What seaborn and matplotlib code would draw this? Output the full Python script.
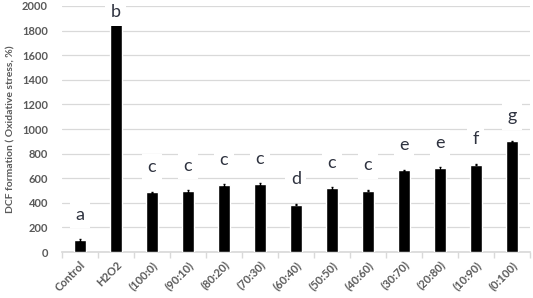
import matplotlib
matplotlib.use("Agg")
import matplotlib.pyplot as plt
import seaborn as sns
import pandas as pd

categories = ["Control", "H2O2", "(100:0)", "(90:10)", "(80:20)", "(70:30)", "(60:40)",
              "(50:50)", "(40:60)", "(30:70)", "(20:80)", "(10:90)", "(0:100)"]
values = [100, 1862, 485, 495, 545, 555, 385, 520, 500, 665, 680, 710, 900]
errors = [6, 8, 6, 6, 6, 6, 6, 6, 6, 6, 10, 6, 6]
letters = ["a", "b", "c", "c", "c", "c", "d", "c", "c", "e", "e", "f", "g"]
yticks = [0, 200, 400, 600, 800, 1000, 1200, 1400, 1600, 1800, 2000]

sns.set_theme(style="white")
plt.rcParams['font.family'] = ['Lato', 'DejaVu Sans']

df = pd.DataFrame({"cat": categories, "val": values})
fig = plt.figure(figsize=(5.33, 2.98), dpi=100)
ax = fig.add_axes([0.116, 0.154, 0.878, 0.826])

sns.barplot(data=df, x="cat", y="val", color="black", width=0.34, ax=ax,
            saturation=1, errorbar=None, zorder=3)
ax.errorbar(range(len(categories)), values, yerr=errors, fmt="none",
            ecolor="black", elinewidth=0.8, capsize=1.0, zorder=4)

for i, (v, l) in enumerate(zip(values, letters)):
    ax.text(i, min(v + 140, 1885), l, ha="center", va="bottom", fontsize=13, color="#2f3340",
            bbox=dict(boxstyle="square,pad=0.3", fc="white", ec="none"), zorder=5,
            clip_on=False)

ax.set_ylim(0, 2000)
ax.set_xlim(-0.5, len(categories) - 0.5)
ax.set_yticks(yticks)
ax.set_yticklabels([str(t) for t in yticks], fontsize=8, color="#595959", fontweight="bold")
ax.yaxis.grid(True, color="#d9d9d9", linewidth=0.9, zorder=0)
ax.set_axisbelow(True)
for s in ["top", "right", "left"]:
    ax.spines[s].set_visible(False)
ax.spines["bottom"].set_color("#d9d9d9")
ax.set_xlabel("")
ax.set_ylabel("DCF formation ( Oxidative stress, %)", fontsize=7.5, fontweight="bold",
              color="#595959", labelpad=5)
ax.set_xticks(range(len(categories)))
ax.set_xticklabels(categories, rotation=45, ha="right", rotation_mode="anchor",
                   fontsize=8, color="#595959", fontweight="bold")
ax.set_xticks([i - 0.5 for i in range(len(categories) + 1)], minor=True)
ax.tick_params(axis="x", which="major", length=0, pad=5)
ax.tick_params(axis="x", which="minor", length=4, color="#d9d9d9", bottom=True)
ax.tick_params(axis="y", length=0, pad=10)

fig.savefig("out.png", dpi=100)
